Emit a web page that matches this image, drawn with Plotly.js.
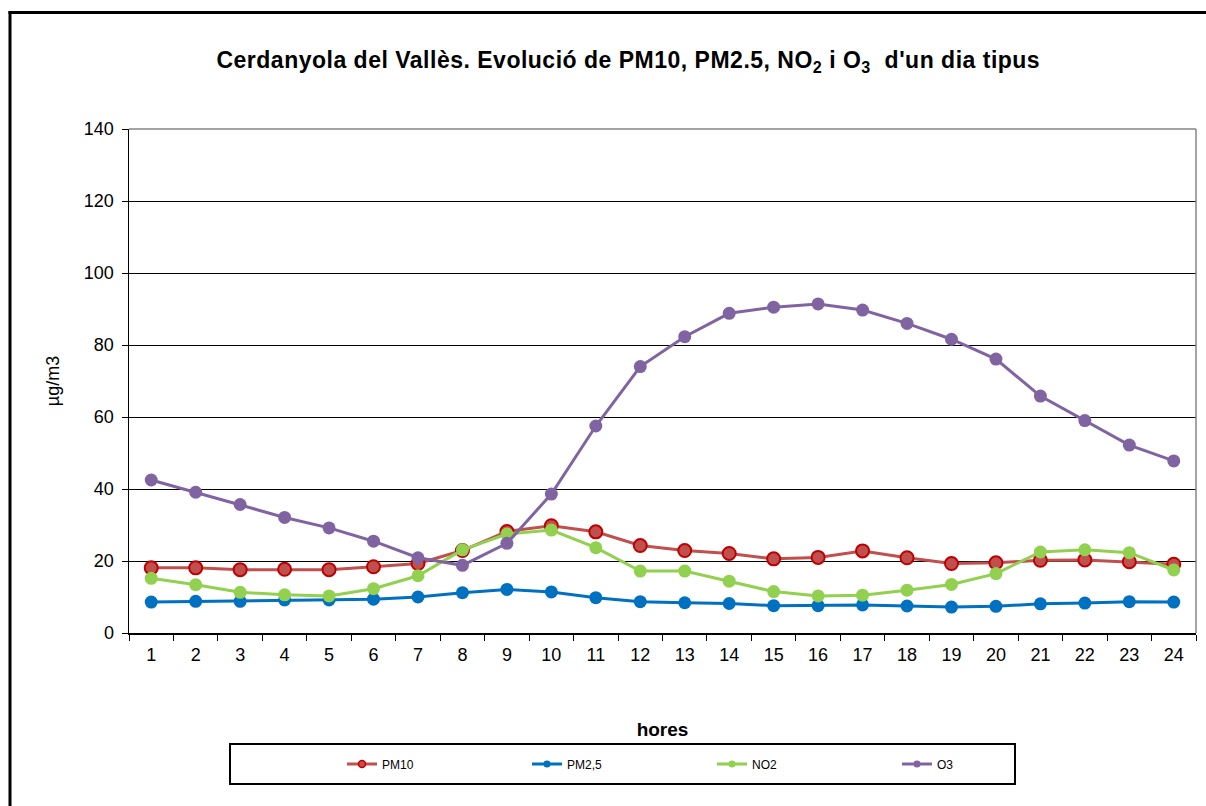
<!DOCTYPE html>
<html>
<head>
<meta charset="utf-8">
<script src="https://cdn.plot.ly/plotly-3.0.1.min.js"></script>
<style>
html,body{margin:0;padding:0;background:#fff;}
#chart{width:1206px;height:806px;}
#chart .gtitle{letter-spacing:0.5px;}
</style>
</head>
<body>
<div id="chart"></div>
<script>
const hours = ['1','2','3','4','5','6','7','8','9','10','11','12','13','14','15','16','17','18','19','20','21','22','23','24'];
const pm10 = [18.1,18.1,17.6,17.7,17.6,18.4,19.3,22.9,28.2,29.8,28.1,24.3,22.9,22.1,20.6,21.0,22.8,20.9,19.3,19.5,20.2,20.3,19.8,19.1];
const pm25 = [8.6,8.8,8.8,9.2,9.2,9.4,10.0,11.2,12.1,11.4,9.8,8.7,8.4,8.2,7.6,7.6,7.8,7.5,7.2,7.4,8.1,8.3,8.7,8.6];
const no2 = [15.2,13.4,11.3,10.6,10.3,12.3,15.9,23.1,27.5,28.6,23.7,17.2,17.2,14.4,11.5,10.3,10.5,11.9,13.5,16.5,22.5,23.1,22.3,17.5];
const o3 = [42.5,39.1,35.7,32.1,29.2,25.5,20.9,18.8,24.9,38.6,57.5,74.0,82.3,88.8,90.5,91.4,89.7,86.0,81.6,76.1,65.8,59.0,52.2,47.8];
const seriesNames = ['PM10','PM2,5','NO2','O3'];
const yTicks = [0,20,40,60,80,100,120,140];

const FONT = 'Liberation Sans, Arial, sans-serif';
const styles = [
  {color:'#C0504D', mline:'#C00000', mw:2},
  {color:'#0070C0', mline:'#0070C0', mw:0},
  {color:'#92D050', mline:'#92D050', mw:0},
  {color:'#8064A2', mline:'#8064A2', mw:0}
];
const data = [pm10, pm25, no2, o3];
const traces = [];
data.forEach((vals, i) => {
  traces.push({
    type:'scatter', mode:'lines+markers', x:hours, y:vals, name:seriesNames[i],
    showlegend:false,
    line:{color:styles[i].color, width:3},
    marker:{size:13, color:styles[i].color, line:{color:styles[i].mline, width:styles[i].mw}},
    hoverinfo:'skip'
  });
});
// legend entries (smaller markers like the original legend)
data.forEach((vals, i) => {
  traces.push({
    type:'scatter', mode:'lines+markers', x:[null], y:[null], name:seriesNames[i],
    showlegend:true,
    line:{color:styles[i].color, width:3},
    marker:{size:7, color:styles[i].color, line:{color:styles[i].mline, width:styles[i].mw ? 1.5 : 0}}
  });
});

const layout = {
  width:1206, height:806,
  margin:{l:129, r:10, t:129, b:173},
  paper_bgcolor:'#ffffff', plot_bgcolor:'#ffffff',
  font:{family:FONT, color:'#000', size:18},
  title:{
    text:"<b>Cerdanyola del Vallès. Evolució de PM10, PM2.5, NO<sub>2</sub> i O<sub>3</sub>  d'un dia tipus</b>",
    font:{family:FONT, size:23, color:'#000'},
    xref:'container', x:0.521, xanchor:'center',
    yref:'container', y:1-60/806, yanchor:'middle'
  },
  xaxis:{
    type:'category', range:[-0.5,23.5], autorange:false,
    tickson:'boundaries', ticks:'outside', ticklen:6, tickcolor:'#000', tickwidth:1,
    showgrid:false, showline:true, linecolor:'#000', linewidth:1.5, zeroline:false,
    tickfont:{family:FONT, size:18}, ticklabelstandoff:5, automargin:false,
    title:{text:'<b>hores</b>', font:{family:FONT, size:19}, standoff:58}
  },
  yaxis:{
    range:[0,140], autorange:false, tickvals:yTicks, ticks:'outside', ticklen:6, tickcolor:'#000', tickwidth:1,
    showgrid:true, gridcolor:'#000', gridwidth:1, showline:true, linecolor:'#000', linewidth:1.5,
    zeroline:false, tickfont:{family:FONT, size:18}, ticklabelstandoff:4, automargin:false,
    title:{text:'µg/m3', font:{family:FONT, size:18}, standoff:19}
  },
  legend:{
    orientation:'h', x:(342-129)/1067, xanchor:'left', y:-0.26, yanchor:'middle',
    font:{family:FONT, size:12, color:'#000'}, bgcolor:'rgba(0,0,0,0)', borderwidth:0,
    entrywidth:140, entrywidthmode:'pixels', traceorder:'normal'
  },
  shapes:[
    // outer chart border: only left and top are inside the picture
    {type:'line', xref:'paper', yref:'paper', x0:(10-129)/1067, x1:(10-129)/1067, y0:(633-830)/504, y1:(633-11)/504,
     line:{color:'#000', width:3}},
    {type:'line', xref:'paper', yref:'paper', x0:(8.5-129)/1067, x1:(1230-129)/1067, y0:(633-12.5)/504, y1:(633-12.5)/504,
     line:{color:'#000', width:3}},
    // plot area grey border top and right
    {type:'line', xref:'paper', yref:'paper', x0:0, x1:1, y0:1, y1:1, line:{color:'#868686', width:1.5}, layer:'above'},
    {type:'line', xref:'paper', yref:'paper', x0:1, x1:1, y0:0, y1:1, line:{color:'#868686', width:1.5}, layer:'above'},
    // legend box
    {type:'rect', xref:'paper', yref:'paper', x0:(230-129)/1067, x1:(1015-129)/1067, y0:(633-784)/504, y1:(633-744)/504,
     line:{color:'#000', width:2}, fillcolor:'rgba(0,0,0,0)'}
  ]
};

Plotly.newPlot('chart', traces, layout, {displayModeBar:false, staticPlot:true});
</script>
</body>
</html>
